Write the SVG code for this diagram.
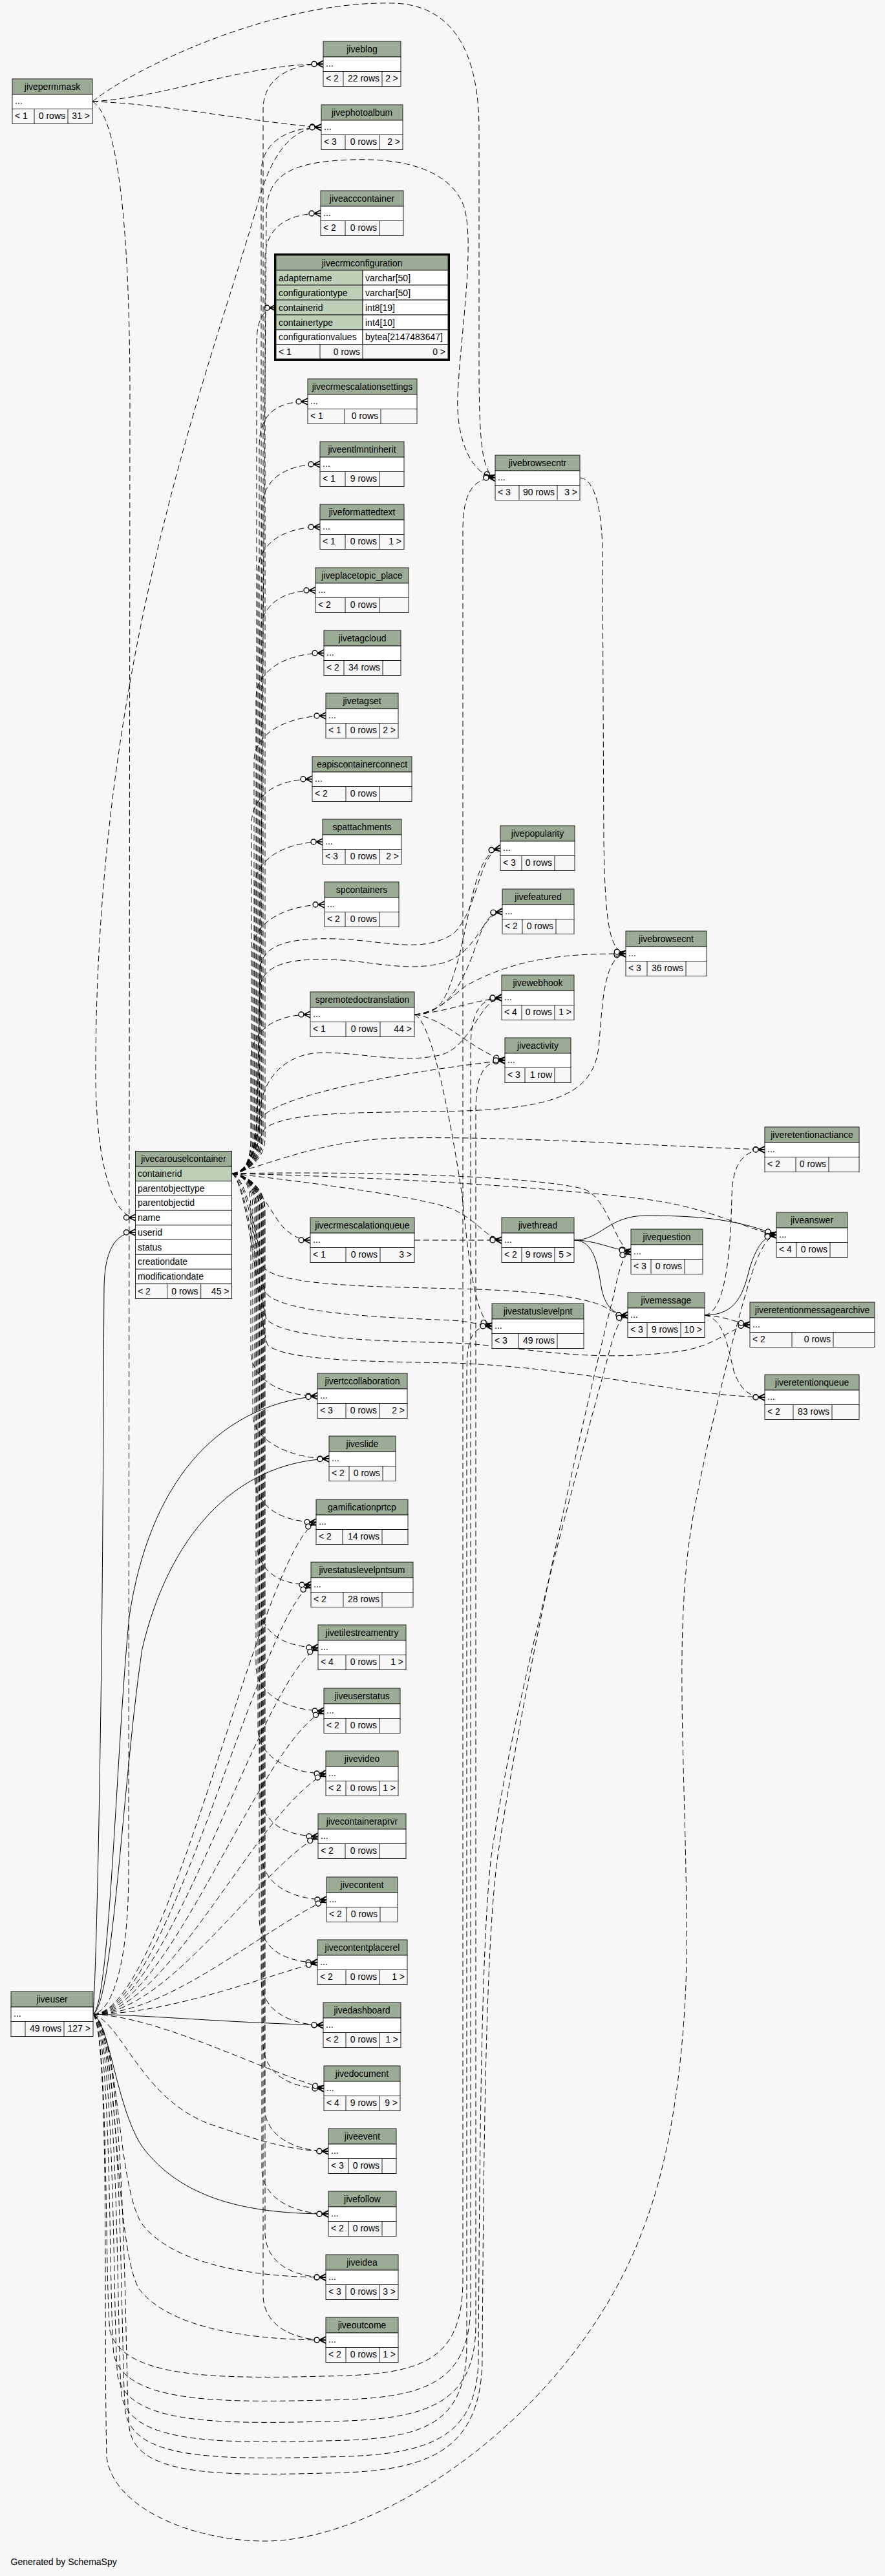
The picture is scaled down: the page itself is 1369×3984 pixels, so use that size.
<svg xmlns="http://www.w3.org/2000/svg" width="1369" height="3984" viewBox="0 0 1369 3984">
<style>
text{font-family:"Liberation Sans",Arial,Helvetica,sans-serif;font-size:14px;fill:#000}
.c{text-anchor:middle}
.r{text-anchor:end}
.h{fill:#9bab96;stroke:#222;stroke-width:1}
.w{fill:#fff;stroke:#222;stroke-width:1}
.k{fill:#bed1b8;stroke:#222;stroke-width:1}
.f{fill:#f7f7f7;stroke:#222;stroke-width:1}
.d{fill:none;stroke:#222;stroke-width:1}
.e{fill:none;stroke:#000;stroke-width:1;stroke-dasharray:9,5;marker-end:url(#m)}
.s{fill:none;stroke:#000;stroke-width:1;marker-end:url(#m)}
.n{fill:none;stroke:#000;stroke-width:1;stroke-dasharray:9,5}
</style>
<defs>
<marker id="m" markerUnits="userSpaceOnUse" markerWidth="26" markerHeight="14" viewBox="-22 -7 24 14" refX="0" refY="0" orient="auto" overflow="visible">
<path d="M-10,0L0,-5M-10,0L0,0M-10,0L0,5" fill="none" stroke="#000" stroke-width="1.6" stroke-dasharray="none"/>
<circle cx="-14" cy="0" r="4" fill="#fff" stroke="#000" stroke-width="1.3" stroke-dasharray="none"/>
</marker>
</defs>
<rect x="0" y="0" width="1369" height="3984" fill="#f7f7f7"/>

<g id="connectors">
<!-- jivepermmask -->
<path class="e" d="M143,157 C260,150 380,99 500,99"/>
<path class="e" d="M143,157 C250,160 400,190 497,197"/>
<path class="e" d="M143,157 C200,110 420,0 610,5 C700,8 741,80 741,200 L741,560 C741,680 745,730 766,739"/>
<path class="n" d="M143,157 C175,175 200,300 201,600 L199,2900 C198,3050 170,3112 144,3115"/>
<path class="e" d="M497,197 C450,197 420,240 400,310 C330,560 150,1000 148,1650 C147,1800 175,1883 209.5,1883"/>
<path class="s" d="M144,3115 C147,3080 152,2900 155,2700 C160,2400 160,2100 161,1990 C162,1940 175,1906 209.5,1906"/>

<!-- jivecarouselcontainer up -->
<path class="e" d="M358.5,1815 C378,1815 407,1795 407,1760 L407,169 C407,124 445,99 500,99"/>
<path class="e" d="M358.5,1815 C378,1815 404,1795 404,1760 L404,267 C404,222 442,197 497,197"/>
<path class="e" d="M358.5,1815 C378,1815 410,1795 410,1760 L410,400 C410,355 441,330 496,330"/>
<path class="e" d="M358.5,1815 C378,1815 397,1795 397,1760 L397,530 C397,495 408,476 427,476"/>
<path class="e" d="M358.5,1815 C378,1815 401,1795 401,1760 L401,691 C401,646 421,621 476,621"/>
<path class="e" d="M358.5,1815 C378,1815 405,1795 405,1760 L405,788 C405,743 440,718 495,718"/>
<path class="e" d="M358.5,1815 C378,1815 399,1795 399,1760 L399,885 C399,840 440,815 495,815"/>
<path class="e" d="M358.5,1815 C378,1815 402,1795 402,1760 L402,983 C402,938 433,913 488,913"/>
<path class="e" d="M358.5,1815 C378,1815 396,1795 396,1760 L396,1080 C396,1035 446,1010 501,1010"/>
<path class="e" d="M358.5,1815 C378,1815 393,1795 393,1760 L393,1177 C393,1132 449,1107 504,1107"/>
<path class="e" d="M358.5,1815 C378,1815 389,1795 389,1760 L389,1275 C389,1230 428,1205 483,1205"/>
<path class="e" d="M358.5,1815 C378,1815 394,1795 394,1760 L394,1372 C394,1327 444,1302 499,1302"/>
<path class="e" d="M358.5,1815 C378,1815 391,1795 391,1760 L391,1469 C391,1424 447,1399 502,1399"/>
<path class="e" d="M358.5,1815 C378,1815 388,1795 388,1760 L388,1639 C388,1594 425,1569 480,1569"/>
<!-- jivecarouselcontainer down -->
<path class="e" d="M358.5,1815 C400,1825 420,1880 440,1900 C455,1913 465,1918 480,1918"/>
<path class="e" d="M358.5,1815 C378,1815 388,1835 388,1870 L388,2089 C388,2134 436,2159 491,2159"/>
<path class="e" d="M358.5,1815 C378,1815 391,1835 391,1870 L391,2186 C391,2231 454,2256 509,2256"/>
<path class="e" d="M358.5,1815 C378,1815 394,1835 394,1870 L394,2284 C394,2329 434,2354 489,2354"/>
<path class="e" d="M358.5,1815 C378,1815 397,1835 397,1870 L397,2381 C397,2426 426,2451 481,2451"/>
<path class="e" d="M358.5,1815 C378,1815 401,1835 401,1870 L401,2478 C401,2523 437,2548 492,2548"/>
<path class="e" d="M358.5,1815 C378,1815 396,1835 396,1870 L396,2576 C396,2621 446,2646 501,2646"/>
<path class="e" d="M358.5,1815 C378,1815 399,1835 399,1870 L399,2673 C399,2718 449,2743 504,2743"/>
<path class="e" d="M358.5,1815 C378,1815 402,1835 402,1870 L402,2770 C402,2815 437,2840 492,2840"/>
<path class="e" d="M358.5,1815 C378,1815 405,1835 405,1870 L405,2868 C405,2913 450,2938 505,2938"/>
<path class="e" d="M358.5,1815 C378,1815 401,1835 401,1870 L401,2965 C401,3010 436,3035 491,3035"/>
<path class="e" d="M358.5,1815 C378,1815 404,1835 404,1870 L404,3062 C404,3107 445,3132 500,3132"/>
<path class="e" d="M358.5,1815 C378,1815 407,1835 407,1870 L407,3160 C407,3205 446,3230 501,3230"/>
<path class="e" d="M358.5,1815 C378,1815 409,1835 409,1870 L409,3257 C409,3302 453,3327 508,3327"/>
<path class="e" d="M358.5,1815 C378,1815 405,1835 405,1870 L405,3354 C405,3399 453,3424 508,3424"/>
<path class="e" d="M358.5,1815 C378,1815 410,1835 410,1870 L410,3452 C410,3497 449,3522 504,3522"/>
<path class="e" d="M358.5,1815 C378,1815 407,1835 407,1870 L407,3549 C407,3594 449,3619 504,3619"/>
<!-- jivecarouselcontainer right -->
<path class="e" d="M358.5,1815 C380,1815 400,1790 401,1750 L412,330 C413,270 450,250 545,247 C640,244 700,270 718,320 C735,380 712,520 708,612 C705,680 730,735 766,739"/>
<path class="e" d="M358.5,1815 C382,1815 396,1780 398,1720 L402,1500 C404,1460 450,1450 520,1452 C600,1455 650,1475 700,1445 C740,1410 740,1318 774,1312"/>
<path class="e" d="M358.5,1815 C382,1815 396,1785 398,1730 L402,1530 C404,1495 440,1482 510,1484 C580,1486 630,1505 690,1488 C740,1470 745,1414 777,1410"/>
<path class="e" d="M358.5,1815 C384,1815 398,1780 402,1720 C405,1670 440,1628 500,1628 C560,1628 620,1645 680,1632 C730,1620 740,1547 776,1543"/>
<path class="e" d="M358.5,1815 C384,1815 398,1770 402,1735 C406,1700 600,1660 781,1640"/>
<path class="e" d="M358.5,1815 C385,1815 400,1760 410,1745 C450,1715 600,1722 720,1718 C860,1713 918,1690 926,1620 C932,1560 932,1480 968,1475"/>
<path class="e" d="M358.5,1815 C420,1800 500,1762 620,1760 C800,1757 1000,1772 1183,1778"/>
<path class="e" d="M358.5,1815 C450,1825 650,1850 700,1870 C740,1888 752,1915 776,1918"/>
<path class="e" d="M358.5,1815 C500,1812 800,1815 900,1838 C940,1848 952,1930 976,1936"/>
<path class="e" d="M358.5,1815 C500,1818 800,1830 1000,1855 C1100,1868 1150,1900 1201,1910"/>
<path class="e" d="M358.5,1815 C385,1822 396,1920 408,1960 C430,1990 600,1990 700,1993 C850,1996 920,2010 940,2024 C950,2030 960,2034 971,2034"/>
<path class="e" d="M358.5,1815 C385,1825 398,1950 410,1998 C432,2032 600,2038 700,2042 C730,2044 745,2050 761,2051"/>
<path class="e" d="M358.5,1815 C385,1830 400,2000 412,2040 C440,2072 600,2074 700,2077 C800,2080 900,2110 1050,2090 C1110,2082 1130,2052 1160,2049"/>
<path class="e" d="M358.5,1815 C385,1830 402,2050 414,2080 C440,2106 600,2106 700,2108 C900,2115 1050,2158 1183,2161"/>

<!-- spremotedoctranslation -->
<path class="e" d="M641,1569 C680,1569 690,1550 710,1480 C730,1400 735,1320 774,1312"/>
<path class="e" d="M641,1569 C690,1565 710,1530 730,1480 C745,1440 750,1412 777,1410"/>
<path class="e" d="M641,1569 C690,1565 730,1548 776,1543"/>
<path class="e" d="M641,1569 C690,1575 730,1625 781,1640"/>
<path class="e" d="M641,1569 C680,1565 700,1540 720,1525 C800,1480 880,1475 968,1475"/>
<path class="e" d="M641,1569 C670,1580 700,1750 715,1850 C725,1950 735,2040 761,2051"/>

<!-- jivecrmescalationqueue, jivebrowsecntr -->
<path class="e" d="M641,1918 L776,1918"/>
<path class="e" d="M897,739 C915,740 930,770 932,850 L934,1300 C936,1440 945,1470 968,1475"/>

<!-- jivethread, jivemessage -->
<path class="s" d="M888,1918 C930,1918 940,1880 1000,1880 C1100,1880 1150,1890 1201,1910"/>
<path class="s" d="M888,1918 C920,1918 940,1930 976,1936"/>
<path class="s" d="M888,1918 C920,1918 925,1960 930,1990 C935,2020 950,2034 971,2034"/>
<path class="s" d="M1090,2034 C1140,2034 1150,2000 1160,1960 C1170,1930 1180,1912 1201,1910"/>
<path class="e" d="M1090,2034 C1120,2036 1140,2045 1160,2049"/>
<path class="e" d="M1090,2034 C1120,2040 1125,2080 1135,2120 C1145,2150 1160,2161 1183,2161"/>
<path class="e" d="M1090,2034 C1120,2030 1130,1950 1132,1850 C1133,1800 1150,1778 1183,1778"/>

<!-- jiveuser -->
<path class="s" d="M144,3115 C170,3100 180,2700 200,2500 C230,2300 330,2175 491,2159"/>
<path class="s" d="M144,3115 C175,3100 190,2750 220,2550 C260,2380 360,2262 509,2256"/>
<path class="s" d="M144,3115 C250,3118 350,3128 500,3132"/>
<path class="s" d="M144,3115 C170,3130 180,3260 220,3320 C280,3400 380,3424 508,3424"/>
<path class="e" d="M144,3115 C260,3115 400,2404 489,2354"/>
<path class="e" d="M144,3115 C260,3115 400,2501 481,2451"/>
<path class="e" d="M144,3115 C260,3115 400,2598 492,2548"/>
<path class="e" d="M144,3115 C260,3115 400,2696 501,2646"/>
<path class="e" d="M144,3115 C260,3115 400,2793 504,2743"/>
<path class="e" d="M144,3115 C260,3115 400,2890 492,2840"/>
<path class="e" d="M144,3115 C260,3115 400,2988 505,2938"/>
<path class="e" d="M144,3115 C260,3115 400,3060 491,3035"/>
<path class="e" d="M144,3115 C250,3120 400,3200 501,3230"/>
<path class="e" d="M144,3115 C190,3130 220,3250 330,3287 C400,3310 450,3327 508,3327"/>
<path class="e" d="M144,3115 C185,3140 180,3380 220,3440 C270,3505 400,3522 504,3522"/>
<path class="e" d="M144,3115 C185,3140 175,3470 215,3540 C265,3605 400,3619 504,3619"/>
<path class="e" d="M144,3115 C168,3140 162,3525 170,3605 C190,3675 320,3680 500,3675 C650,3673 716,3655 716,3525 L716,819 C716,764 731,739 766,739"/>
<path class="e" d="M144,3115 C174,3140 168,3562 176,3642 C194,3712 320,3717 500,3712 C650,3710 728,3692 728,3562 L728,1623 C728,1568 741,1543 776,1543"/>
<path class="e" d="M144,3115 C180,3140 174,3595 182,3675 C198,3745 320,3750 500,3745 C650,3743 736,3725 736,3595 L736,1720 C736,1665 746,1640 781,1640"/>
<path class="e" d="M144,3115 C186,3140 180,3625 188,3705 C202,3775 320,3780 500,3775 C650,3773 722,3755 722,3625 L722,2131 C722,2076 726,2051 761,2051"/>
<path class="e" d="M144,3115 C192,3140 186,3650 194,3730 C206,3800 320,3805 500,3800 C650,3798 738,3780 740,3650 C742,3300 745,3000 760,2870 C800,2600 900,2250 940,2100 C950,2060 958,2038 971,2034"/>
<path class="e" d="M144,3115 C198,3140 192,3675 200,3755 C210,3825 320,3830 500,3825 C650,3823 744,3800 746,3650 C748,3300 752,3000 770,2870 C810,2600 900,2200 950,2000 C958,1960 965,1940 976,1936"/>
<path class="e" d="M144,3115 C170,3150 160,3600 165,3800 C175,3880 300,3930 410,3930 C600,3930 900,3720 999,3436 C1050,3300 1065,3100 1062,2969 C1060,2700 1040,2500 1077,2319 C1100,2200 1150,2000 1170,1950 C1180,1925 1190,1912 1201,1910"/>
</g>

<g id="jivepermmask">
<rect class="h" x="19" y="122" width="124" height="24"/><rect class="w" x="19" y="146" width="124" height="22.5"/><rect class="f" x="19" y="168.5" width="124" height="23"/><path class="d" d="M53,168.5v23M105,168.5v23"/>
<text class="c" x="81" y="138.5">jivepermmask</text><text x="23" y="161">...</text><text x="23" y="184">&lt; 1</text><text class="r" x="101" y="184">0 rows</text><text class="r" x="139" y="184">31 &gt;</text>
</g>
<g id="jiveblog">
<rect class="h" x="500" y="64" width="120" height="24"/><rect class="w" x="500" y="88" width="120" height="22.5"/><rect class="f" x="500" y="110.5" width="120" height="23"/><path class="d" d="M531,110.5v23M591,110.5v23"/>
<text class="c" x="560" y="80.5">jiveblog</text><text x="504" y="103">...</text><text x="504" y="126">&lt; 2</text><text class="r" x="587" y="126">22 rows</text><text class="r" x="616" y="126">2 &gt;</text>
</g>
<g id="jivephotoalbum">
<rect class="h" x="497" y="162" width="126" height="24"/><rect class="w" x="497" y="186" width="126" height="22.5"/><rect class="f" x="497" y="208.5" width="126" height="23"/><path class="d" d="M534,208.5v23M587,208.5v23"/>
<text class="c" x="560" y="178.5">jivephotoalbum</text><text x="501" y="201">...</text><text x="501" y="224">&lt; 3</text><text class="r" x="583" y="224">0 rows</text><text class="r" x="619" y="224">2 &gt;</text>
</g>
<g id="jiveacccontainer">
<rect class="h" x="496" y="295" width="128" height="24"/><rect class="w" x="496" y="319" width="128" height="22.5"/><rect class="f" x="496" y="341.5" width="128" height="23"/><path class="d" d="M534,341.5v23M587,341.5v23"/>
<text class="c" x="560" y="311.5">jiveacccontainer</text><text x="500" y="334">...</text><text x="500" y="357">&lt; 2</text><text class="r" x="583" y="357">0 rows</text>
</g>
<g id="jivecrmconfiguration">
<rect x="425.5" y="393.5" width="269" height="163" fill="none" stroke="#000" stroke-width="3"/>
<rect class="h" x="427" y="395" width="266" height="23"/>
<rect class="k" x="427" y="418" width="134" height="23"/><rect class="w" x="561" y="418" width="132" height="23"/>
<rect class="k" x="427" y="441" width="134" height="23"/><rect class="w" x="561" y="441" width="132" height="23"/>
<rect class="k" x="427" y="464" width="134" height="23"/><rect class="w" x="561" y="464" width="132" height="23"/>
<rect class="k" x="427" y="487" width="134" height="23"/><rect class="w" x="561" y="487" width="132" height="23"/>
<rect class="w" x="427" y="510" width="134" height="22.5"/><rect class="w" x="561" y="510" width="132" height="22.5"/>
<rect class="f" x="427" y="532.5" width="266" height="22.5"/><path class="d" d="M495,532.5v22.5M561,532.5v22.5"/>
<text class="c" x="560" y="411.5">jivecrmconfiguration</text>
<text x="431" y="434.5">adaptername</text><text x="565" y="434.5">varchar[50]</text>
<text x="431" y="457.5">configurationtype</text><text x="565" y="457.5">varchar[50]</text>
<text x="431" y="480.5">containerid</text><text x="565" y="480.5">int8[19]</text>
<text x="431" y="503.5">containertype</text><text x="565" y="503.5">int4[10]</text>
<text x="431" y="526">configurationvalues</text><text x="565" y="526">bytea[2147483647]</text>
<text x="431" y="548.5">&lt; 1</text><text class="r" x="557" y="548.5">0 rows</text><text class="r" x="689" y="548.5">0 &gt;</text>
</g>
<g id="jivecrmescalationsettings">
<rect class="h" x="476" y="586" width="169" height="24"/><rect class="w" x="476" y="610" width="169" height="22.5"/><rect class="f" x="476" y="632.5" width="169" height="23"/><path class="d" d="M533,632.5v23M589,632.5v23"/>
<text class="c" x="560.5" y="602.5">jivecrmescalationsettings</text><text x="480" y="625">...</text><text x="480" y="648">&lt; 1</text><text class="r" x="585" y="648">0 rows</text>
</g>
<g id="jiveentlmntinherit">
<rect class="h" x="495" y="683" width="130" height="24"/><rect class="w" x="495" y="707" width="130" height="22.5"/><rect class="f" x="495" y="729.5" width="130" height="23"/><path class="d" d="M534,729.5v23M587,729.5v23"/>
<text class="c" x="560" y="699.5">jiveentlmntinherit</text><text x="499" y="722">...</text><text x="499" y="745">&lt; 1</text><text class="r" x="583" y="745">9 rows</text>
</g>
<g id="jiveformattedtext">
<rect class="h" x="495" y="780" width="130" height="24"/><rect class="w" x="495" y="804" width="130" height="22.5"/><rect class="f" x="495" y="826.5" width="130" height="23"/><path class="d" d="M534,826.5v23M587,826.5v23"/>
<text class="c" x="560" y="796.5">jiveformattedtext</text><text x="499" y="819">...</text><text x="499" y="842">&lt; 1</text><text class="r" x="583" y="842">0 rows</text><text class="r" x="621" y="842">1 &gt;</text>
</g>
<g id="jiveplacetopic_place">
<rect class="h" x="488" y="878" width="144" height="24"/><rect class="w" x="488" y="902" width="144" height="22.5"/><rect class="f" x="488" y="924.5" width="144" height="23"/><path class="d" d="M534,924.5v23M587,924.5v23"/>
<text class="c" x="560" y="894.5">jiveplacetopic_place</text><text x="492" y="917">...</text><text x="492" y="940">&lt; 2</text><text class="r" x="583" y="940">0 rows</text>
</g>
<g id="jivetagcloud">
<rect class="h" x="501" y="975" width="119" height="24"/><rect class="w" x="501" y="999" width="119" height="22.5"/><rect class="f" x="501" y="1021.5" width="119" height="23"/><path class="d" d="M532,1021.5v23M592,1021.5v23"/>
<text class="c" x="560.5" y="991.5">jivetagcloud</text><text x="505" y="1014">...</text><text x="505" y="1037">&lt; 2</text><text class="r" x="588" y="1037">34 rows</text>
</g>
<g id="jivetagset">
<rect class="h" x="504" y="1072" width="112" height="24"/><rect class="w" x="504" y="1096" width="112" height="22.5"/><rect class="f" x="504" y="1118.5" width="112" height="23"/><path class="d" d="M535,1118.5v23M587,1118.5v23"/>
<text class="c" x="560" y="1088.5">jivetagset</text><text x="508" y="1111">...</text><text x="508" y="1134">&lt; 1</text><text class="r" x="583" y="1134">0 rows</text><text class="r" x="612" y="1134">2 &gt;</text>
</g>
<g id="eapiscontainerconnect">
<rect class="h" x="483" y="1170" width="154" height="24"/><rect class="w" x="483" y="1194" width="154" height="22.5"/><rect class="f" x="483" y="1216.5" width="154" height="23"/><path class="d" d="M535,1216.5v23M587,1216.5v23"/>
<text class="c" x="560" y="1186.5">eapiscontainerconnect</text><text x="487" y="1209">...</text><text x="487" y="1232">&lt; 2</text><text class="r" x="583" y="1232">0 rows</text>
</g>
<g id="spattachments">
<rect class="h" x="499" y="1267" width="122" height="24"/><rect class="w" x="499" y="1291" width="122" height="22.5"/><rect class="f" x="499" y="1313.5" width="122" height="23"/><path class="d" d="M534,1313.5v23M587,1313.5v23"/>
<text class="c" x="560" y="1283.5">spattachments</text><text x="503" y="1306">...</text><text x="503" y="1329">&lt; 3</text><text class="r" x="583" y="1329">0 rows</text><text class="r" x="617" y="1329">2 &gt;</text>
</g>
<g id="spcontainers">
<rect class="h" x="502" y="1364" width="115" height="24"/><rect class="w" x="502" y="1388" width="115" height="22.5"/><rect class="f" x="502" y="1410.5" width="115" height="23"/><path class="d" d="M534,1410.5v23M587,1410.5v23"/>
<text class="c" x="559.5" y="1380.5">spcontainers</text><text x="506" y="1403">...</text><text x="506" y="1426">&lt; 2</text><text class="r" x="583" y="1426">0 rows</text>
</g>
<g id="spremotedoctranslation">
<rect class="h" x="480" y="1534" width="161" height="24"/><rect class="w" x="480" y="1558" width="161" height="22.5"/><rect class="f" x="480" y="1580.5" width="161" height="23"/><path class="d" d="M535,1580.5v23M588,1580.5v23"/>
<text class="c" x="560.5" y="1550.5">spremotedoctranslation</text><text x="484" y="1573">...</text><text x="484" y="1596">&lt; 1</text><text class="r" x="584" y="1596">0 rows</text><text class="r" x="637" y="1596">44 &gt;</text>
</g>
<g id="jivecrmescalationqueue">
<rect class="h" x="480" y="1883" width="161" height="24"/><rect class="w" x="480" y="1907" width="161" height="22.5"/><rect class="f" x="480" y="1929.5" width="161" height="23"/><path class="d" d="M535,1929.5v23M588,1929.5v23"/>
<text class="c" x="560.5" y="1899.5">jivecrmescalationqueue</text><text x="484" y="1922">...</text><text x="484" y="1945">&lt; 1</text><text class="r" x="584" y="1945">0 rows</text><text class="r" x="637" y="1945">3 &gt;</text>
</g>
<g id="jivertccollaboration">
<rect class="h" x="491" y="2124" width="139" height="24"/><rect class="w" x="491" y="2148" width="139" height="22.5"/><rect class="f" x="491" y="2170.5" width="139" height="23"/><path class="d" d="M535,2170.5v23M587,2170.5v23"/>
<text class="c" x="560.5" y="2140.5">jivertccollaboration</text><text x="495" y="2163">...</text><text x="495" y="2186">&lt; 3</text><text class="r" x="583" y="2186">0 rows</text><text class="r" x="626" y="2186">2 &gt;</text>
</g>
<g id="jiveslide">
<rect class="h" x="509" y="2221" width="103" height="24"/><rect class="w" x="509" y="2245" width="103" height="22.5"/><rect class="f" x="509" y="2267.5" width="103" height="23"/><path class="d" d="M540,2267.5v23M592,2267.5v23"/>
<text class="c" x="560.5" y="2237.5">jiveslide</text><text x="513" y="2260">...</text><text x="513" y="2283">&lt; 2</text><text class="r" x="588" y="2283">0 rows</text>
</g>
<g id="gamificationprtcp">
<rect class="h" x="489" y="2319" width="142" height="24"/><rect class="w" x="489" y="2343" width="142" height="22.5"/><rect class="f" x="489" y="2365.5" width="142" height="23"/><path class="d" d="M530,2365.5v23M591,2365.5v23"/>
<text class="c" x="560" y="2335.5">gamificationprtcp</text><text x="493" y="2358">...</text><text x="493" y="2381">&lt; 2</text><text class="r" x="587" y="2381">14 rows</text>
</g>
<g id="jivestatuslevelpntsum">
<rect class="h" x="481" y="2416" width="158" height="24"/><rect class="w" x="481" y="2440" width="158" height="22.5"/><rect class="f" x="481" y="2462.5" width="158" height="23"/><path class="d" d="M531,2462.5v23M591,2462.5v23"/>
<text class="c" x="560" y="2432.5">jivestatuslevelpntsum</text><text x="485" y="2455">...</text><text x="485" y="2478">&lt; 2</text><text class="r" x="587" y="2478">28 rows</text>
</g>
<g id="jivetilestreamentry">
<rect class="h" x="492" y="2513" width="136" height="24"/><rect class="w" x="492" y="2537" width="136" height="22.5"/><rect class="f" x="492" y="2559.5" width="136" height="23"/><path class="d" d="M535,2559.5v23M587,2559.5v23"/>
<text class="c" x="560" y="2529.5">jivetilestreamentry</text><text x="496" y="2552">...</text><text x="496" y="2575">&lt; 4</text><text class="r" x="583" y="2575">0 rows</text><text class="r" x="624" y="2575">1 &gt;</text>
</g>
<g id="jiveuserstatus">
<rect class="h" x="501" y="2611" width="118" height="24"/><rect class="w" x="501" y="2635" width="118" height="22.5"/><rect class="f" x="501" y="2657.5" width="118" height="23"/><path class="d" d="M535,2657.5v23M587,2657.5v23"/>
<text class="c" x="560" y="2627.5">jiveuserstatus</text><text x="505" y="2650">...</text><text x="505" y="2673">&lt; 2</text><text class="r" x="583" y="2673">0 rows</text>
</g>
<g id="jivevideo">
<rect class="h" x="504" y="2708" width="112" height="24"/><rect class="w" x="504" y="2732" width="112" height="22.5"/><rect class="f" x="504" y="2754.5" width="112" height="23"/><path class="d" d="M535,2754.5v23M587,2754.5v23"/>
<text class="c" x="560" y="2724.5">jivevideo</text><text x="508" y="2747">...</text><text x="508" y="2770">&lt; 2</text><text class="r" x="583" y="2770">0 rows</text><text class="r" x="612" y="2770">1 &gt;</text>
</g>
<g id="jivecontaineraprvr">
<rect class="h" x="492" y="2805" width="136" height="24"/><rect class="w" x="492" y="2829" width="136" height="22.5"/><rect class="f" x="492" y="2851.5" width="136" height="23"/><path class="d" d="M534,2851.5v23M587,2851.5v23"/>
<text class="c" x="560" y="2821.5">jivecontaineraprvr</text><text x="496" y="2844">...</text><text x="496" y="2867">&lt; 2</text><text class="r" x="583" y="2867">0 rows</text>
</g>
<g id="jivecontent">
<rect class="h" x="505" y="2903" width="110" height="24"/><rect class="w" x="505" y="2927" width="110" height="22.5"/><rect class="f" x="505" y="2949.5" width="110" height="23"/><path class="d" d="M536,2949.5v23M588,2949.5v23"/>
<text class="c" x="560" y="2919.5">jivecontent</text><text x="509" y="2942">...</text><text x="509" y="2965">&lt; 2</text><text class="r" x="584" y="2965">0 rows</text>
</g>
<g id="jivecontentplacerel">
<rect class="h" x="491" y="3000" width="139" height="24"/><rect class="w" x="491" y="3024" width="139" height="22.5"/><rect class="f" x="491" y="3046.5" width="139" height="23"/><path class="d" d="M535,3046.5v23M587,3046.5v23"/>
<text class="c" x="560.5" y="3016.5">jivecontentplacerel</text><text x="495" y="3039">...</text><text x="495" y="3062">&lt; 2</text><text class="r" x="583" y="3062">0 rows</text><text class="r" x="626" y="3062">1 &gt;</text>
</g>
<g id="jivedashboard">
<rect class="h" x="500" y="3097" width="120" height="24"/><rect class="w" x="500" y="3121" width="120" height="22.5"/><rect class="f" x="500" y="3143.5" width="120" height="23"/><path class="d" d="M535,3143.5v23M587,3143.5v23"/>
<text class="c" x="560" y="3113.5">jivedashboard</text><text x="504" y="3136">...</text><text x="504" y="3159">&lt; 2</text><text class="r" x="583" y="3159">0 rows</text><text class="r" x="616" y="3159">1 &gt;</text>
</g>
<g id="jivedocument">
<rect class="h" x="501" y="3195" width="118" height="24"/><rect class="w" x="501" y="3219" width="118" height="22.5"/><rect class="f" x="501" y="3241.5" width="118" height="23"/><path class="d" d="M535,3241.5v23M587,3241.5v23"/>
<text class="c" x="560" y="3211.5">jivedocument</text><text x="505" y="3234">...</text><text x="505" y="3257">&lt; 4</text><text class="r" x="583" y="3257">9 rows</text><text class="r" x="615" y="3257">9 &gt;</text>
</g>
<g id="jiveevent">
<rect class="h" x="508" y="3292" width="105" height="24"/><rect class="w" x="508" y="3316" width="105" height="22.5"/><rect class="f" x="508" y="3338.5" width="105" height="23"/><path class="d" d="M539,3338.5v23M591,3338.5v23"/>
<text class="c" x="560.5" y="3308.5">jiveevent</text><text x="512" y="3331">...</text><text x="512" y="3354">&lt; 3</text><text class="r" x="587" y="3354">0 rows</text>
</g>
<g id="jivefollow">
<rect class="h" x="508" y="3389" width="105" height="24"/><rect class="w" x="508" y="3413" width="105" height="22.5"/><rect class="f" x="508" y="3435.5" width="105" height="23"/><path class="d" d="M539,3435.5v23M591,3435.5v23"/>
<text class="c" x="560.5" y="3405.5">jivefollow</text><text x="512" y="3428">...</text><text x="512" y="3451">&lt; 2</text><text class="r" x="587" y="3451">0 rows</text>
</g>
<g id="jiveidea">
<rect class="h" x="504" y="3487" width="112" height="24"/><rect class="w" x="504" y="3511" width="112" height="22.5"/><rect class="f" x="504" y="3533.5" width="112" height="23"/><path class="d" d="M535,3533.5v23M587,3533.5v23"/>
<text class="c" x="560" y="3503.5">jiveidea</text><text x="508" y="3526">...</text><text x="508" y="3549">&lt; 3</text><text class="r" x="583" y="3549">0 rows</text><text class="r" x="612" y="3549">3 &gt;</text>
</g>
<g id="jiveoutcome">
<rect class="h" x="504" y="3584" width="112" height="24"/><rect class="w" x="504" y="3608" width="112" height="22.5"/><rect class="f" x="504" y="3630.5" width="112" height="23"/><path class="d" d="M535,3630.5v23M587,3630.5v23"/>
<text class="c" x="560" y="3600.5">jiveoutcome</text><text x="508" y="3623">...</text><text x="508" y="3646">&lt; 2</text><text class="r" x="583" y="3646">0 rows</text><text class="r" x="612" y="3646">1 &gt;</text>
</g>
<g id="jiveuser">
<rect class="h" x="17" y="3080" width="127" height="24"/><rect class="w" x="17" y="3104" width="127" height="22.5"/><rect class="f" x="17" y="3126.5" width="127" height="23"/><path class="d" d="M39,3126.5v23M99,3126.5v23"/>
<text class="c" x="80.5" y="3096.5">jiveuser</text><text x="21" y="3119">...</text><text class="r" x="95" y="3142">49 rows</text><text class="r" x="140" y="3142">127 &gt;</text>
</g>
<g id="jivecarouselcontainer">
<rect class="h" x="209.5" y="1780.5" width="149" height="23.5"/>
<rect class="k" x="209.5" y="1804" width="149" height="22.7"/>
<rect class="w" x="209.5" y="1826.7" width="149" height="22.7"/>
<rect class="w" x="209.5" y="1849.4" width="149" height="22.7"/>
<rect class="w" x="209.5" y="1872.1" width="149" height="22.7"/>
<rect class="w" x="209.5" y="1894.8" width="149" height="22.7"/>
<rect class="w" x="209.5" y="1917.5" width="149" height="22.7"/>
<rect class="w" x="209.5" y="1940.2" width="149" height="22.7"/>
<rect class="w" x="209.5" y="1962.9" width="149" height="22.7"/>
<rect class="f" x="209.5" y="1985.6" width="149" height="22.9"/><path class="d" d="M258.5,1985.6v22.9M310.7,1985.6v22.9"/>
<text class="c" x="284" y="1797">jivecarouselcontainer</text>
<text x="213" y="1820">containerid</text>
<text x="213" y="1842.7">parentobjecttype</text>
<text x="213" y="1865.4">parentobjectid</text>
<text x="213" y="1888.1">name</text>
<text x="213" y="1910.8">userid</text>
<text x="213" y="1933.5">status</text>
<text x="213" y="1956.2">creationdate</text>
<text x="213" y="1978.9">modificationdate</text>
<text x="213" y="2002">&lt; 2</text><text class="r" x="306.5" y="2002">0 rows</text><text class="r" x="354.5" y="2002">45 &gt;</text>
</g>
<g id="jivebrowsecntr">
<rect class="h" x="766" y="704" width="131" height="24"/><rect class="w" x="766" y="728" width="131" height="22.5"/><rect class="f" x="766" y="750.5" width="131" height="23"/><path class="d" d="M803,750.5v23M862,750.5v23"/>
<text class="c" x="831.5" y="720.5">jivebrowsecntr</text><text x="770" y="743">...</text><text x="770" y="766">&lt; 3</text><text class="r" x="858" y="766">90 rows</text><text class="r" x="893" y="766">3 &gt;</text>
</g>
<g id="jivepopularity">
<rect class="h" x="774" y="1277" width="115" height="24"/><rect class="w" x="774" y="1301" width="115" height="22.5"/><rect class="f" x="774" y="1323.5" width="115" height="23"/><path class="d" d="M807,1323.5v23M858,1323.5v23"/>
<text class="c" x="831.5" y="1293.5">jivepopularity</text><text x="778" y="1316">...</text><text x="778" y="1339">&lt; 3</text><text class="r" x="854" y="1339">0 rows</text>
</g>
<g id="jivefeatured">
<rect class="h" x="777" y="1375" width="111" height="24"/><rect class="w" x="777" y="1399" width="111" height="22.5"/><rect class="f" x="777" y="1421.5" width="111" height="23"/><path class="d" d="M808,1421.5v23M860,1421.5v23"/>
<text class="c" x="832.5" y="1391.5">jivefeatured</text><text x="781" y="1414">...</text><text x="781" y="1437">&lt; 2</text><text class="r" x="856" y="1437">0 rows</text>
</g>
<g id="jivebrowsecnt">
<rect class="h" x="968" y="1440" width="125" height="24"/><rect class="w" x="968" y="1464" width="125" height="22.5"/><rect class="f" x="968" y="1486.5" width="125" height="23"/><path class="d" d="M1001,1486.5v23M1061,1486.5v23"/>
<text class="c" x="1030.5" y="1456.5">jivebrowsecnt</text><text x="972" y="1479">...</text><text x="972" y="1502">&lt; 3</text><text class="r" x="1057" y="1502">36 rows</text>
</g>
<g id="jivewebhook">
<rect class="h" x="776" y="1508" width="112" height="24"/><rect class="w" x="776" y="1532" width="112" height="22.5"/><rect class="f" x="776" y="1554.5" width="112" height="23"/><path class="d" d="M807,1554.5v23M858,1554.5v23"/>
<text class="c" x="832" y="1524.5">jivewebhook</text><text x="780" y="1547">...</text><text x="780" y="1570">&lt; 4</text><text class="r" x="854" y="1570">0 rows</text><text class="r" x="884" y="1570">1 &gt;</text>
</g>
<g id="jiveactivity">
<rect class="h" x="781" y="1605" width="102" height="24"/><rect class="w" x="781" y="1629" width="102" height="22.5"/><rect class="f" x="781" y="1651.5" width="102" height="23"/><path class="d" d="M812,1651.5v23M858,1651.5v23"/>
<text class="c" x="832" y="1621.5">jiveactivity</text><text x="785" y="1644">...</text><text x="785" y="1667">&lt; 3</text><text class="r" x="854" y="1667">1 row</text>
</g>
<g id="jivethread">
<rect class="h" x="776" y="1883" width="112" height="24"/><rect class="w" x="776" y="1907" width="112" height="22.5"/><rect class="f" x="776" y="1929.5" width="112" height="23"/><path class="d" d="M807,1929.5v23M858,1929.5v23"/>
<text class="c" x="832" y="1899.5">jivethread</text><text x="780" y="1922">...</text><text x="780" y="1945">&lt; 2</text><text class="r" x="854" y="1945">9 rows</text><text class="r" x="884" y="1945">5 &gt;</text>
</g>
<g id="jivestatuslevelpnt">
<rect class="h" x="761" y="2016" width="142" height="24"/><rect class="w" x="761" y="2040" width="142" height="22.5"/><rect class="f" x="761" y="2062.5" width="142" height="23"/><path class="d" d="M802,2062.5v23M862,2062.5v23"/>
<text class="c" x="832" y="2032.5">jivestatuslevelpnt</text><text x="765" y="2055">...</text><text x="765" y="2078">&lt; 3</text><text class="r" x="858" y="2078">49 rows</text>
</g>
<g id="jivequestion">
<rect class="h" x="976" y="1901" width="111" height="24"/><rect class="w" x="976" y="1925" width="111" height="22.5"/><rect class="f" x="976" y="1947.5" width="111" height="23"/><path class="d" d="M1007,1947.5v23M1059,1947.5v23"/>
<text class="c" x="1031.5" y="1917.5">jivequestion</text><text x="980" y="1940">...</text><text x="980" y="1963">&lt; 3</text><text class="r" x="1055" y="1963">0 rows</text>
</g>
<g id="jivemessage">
<rect class="h" x="971" y="1999" width="119" height="24"/><rect class="w" x="971" y="2023" width="119" height="22.5"/><rect class="f" x="971" y="2045.5" width="119" height="23"/><path class="d" d="M1001,2045.5v23M1053,2045.5v23"/>
<text class="c" x="1030.5" y="2015.5">jivemessage</text><text x="975" y="2038">...</text><text x="975" y="2061">&lt; 3</text><text class="r" x="1049" y="2061">9 rows</text><text class="r" x="1086" y="2061">10 &gt;</text>
</g>
<g id="jiveretentionactiance">
<rect class="h" x="1183" y="1743" width="146" height="24"/><rect class="w" x="1183" y="1767" width="146" height="22.5"/><rect class="f" x="1183" y="1789.5" width="146" height="23"/><path class="d" d="M1231,1789.5v23M1282,1789.5v23"/>
<text class="c" x="1256" y="1759.5">jiveretentionactiance</text><text x="1187" y="1782">...</text><text x="1187" y="1805">&lt; 2</text><text class="r" x="1278" y="1805">0 rows</text>
</g>
<g id="jiveanswer">
<rect class="h" x="1201" y="1875" width="110" height="24"/><rect class="w" x="1201" y="1899" width="110" height="22.5"/><rect class="f" x="1201" y="1921.5" width="110" height="23"/><path class="d" d="M1232,1921.5v23M1284,1921.5v23"/>
<text class="c" x="1256" y="1891.5">jiveanswer</text><text x="1205" y="1914">...</text><text x="1205" y="1937">&lt; 4</text><text class="r" x="1280" y="1937">0 rows</text>
</g>
<g id="jiveretentionmessagearchive">
<rect class="h" x="1160" y="2014" width="193" height="24"/><rect class="w" x="1160" y="2038" width="193" height="22.5"/><rect class="f" x="1160" y="2060.5" width="193" height="23"/><path class="d" d="M1225,2060.5v23M1289,2060.5v23"/>
<text class="c" x="1256.5" y="2030.5">jiveretentionmessagearchive</text><text x="1164" y="2053">...</text><text x="1164" y="2076">&lt; 2</text><text class="r" x="1285" y="2076">0 rows</text>
</g>
<g id="jiveretentionqueue">
<rect class="h" x="1183" y="2126" width="146" height="24"/><rect class="w" x="1183" y="2150" width="146" height="22.5"/><rect class="f" x="1183" y="2172.5" width="146" height="23"/><path class="d" d="M1227,2172.5v23M1287,2172.5v23"/>
<text class="c" x="1256" y="2142.5">jiveretentionqueue</text><text x="1187" y="2165">...</text><text x="1187" y="2188">&lt; 2</text><text class="r" x="1283" y="2188">83 rows</text>
</g>
<text x="16.5" y="3967">Generated by SchemaSpy</text>
</svg>
